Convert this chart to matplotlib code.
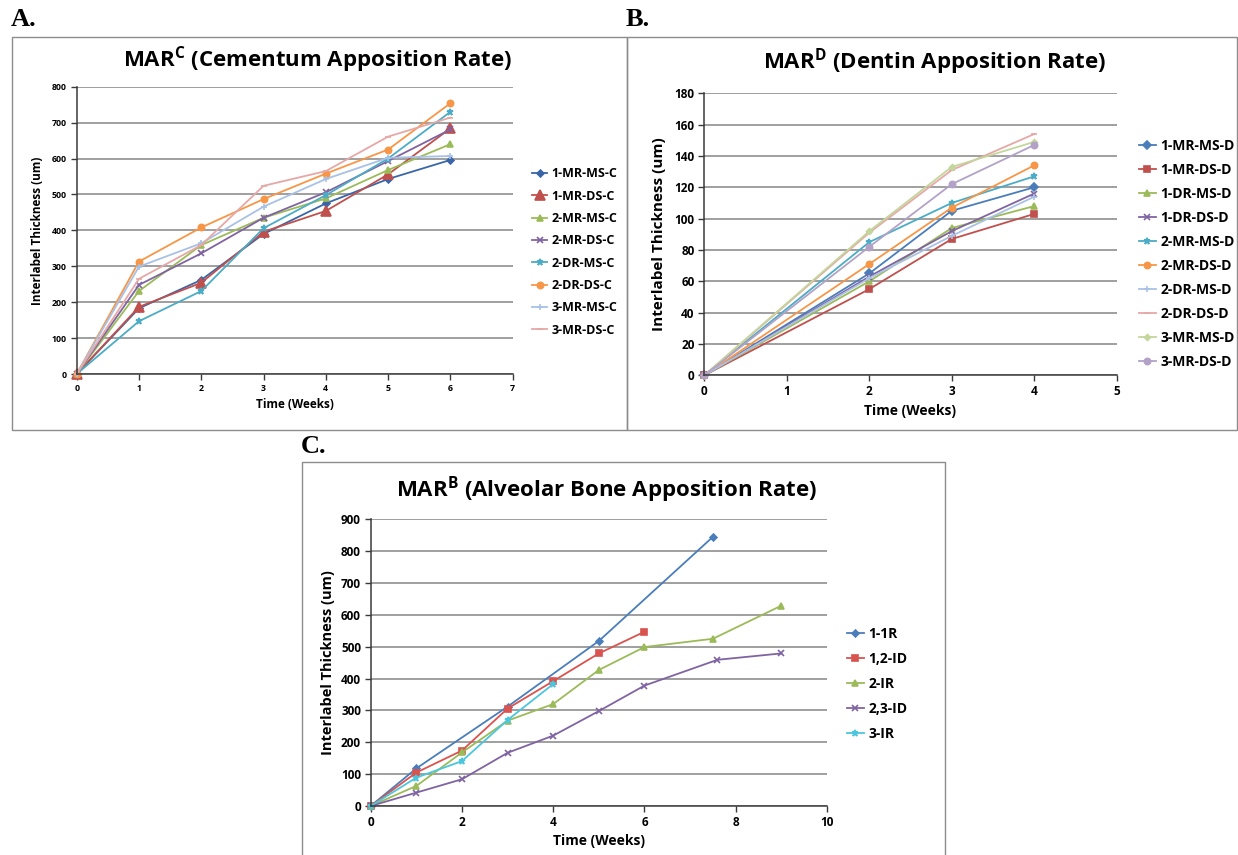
import matplotlib
matplotlib.use("Agg")
import matplotlib.pyplot as plt
from matplotlib.patches import Rectangle

plt.rcParams["font.family"] = ["Open Sans", "DejaVu Sans"]
plt.rcParams["font.weight"] = "bold"
plt.rcParams["mathtext.fontset"] = "custom"
plt.rcParams["mathtext.rm"] = "Open Sans:bold"
plt.rcParams["mathtext.bf"] = "Open Sans:bold"

# ── Data ─────────────────────────────────────────────────────────────────
weeks_a = [0, 1, 2, 3, 4, 5, 6]
labels_a = ["1-MR-MS-C", "1-MR-DS-C", "2-MR-MS-C", "2-MR-DS-C",
            "2-DR-MS-C", "2-DR-DS-C", "3-MR-MS-C", "3-MR-DS-C"]
mr_ms_c1 = [0, 183, 262, 390, 475, 543, 596]
mr_ds_c1 = [0, 187, 254, 396, 454, 556, 684]
mr_ms_c2 = [0, 231, 359, 435, 489, 568, 640]
mr_ds_c2 = [0, 248, 336, 435, 506, 593, 681]
dr_ms_c2 = [0, 147, 231, 406, 498, 600, 730]
dr_ds_c2 = [0, 313, 408, 487, 558, 625, 754]
mr_ms_c3 = [0, 299, 364, 466, 543, 602, 607]
mr_ds_c3 = [0, 265, 359, 524, 565, 661, 714]
values_a = [mr_ms_c1, mr_ds_c1, mr_ms_c2, mr_ds_c2,
            dr_ms_c2, dr_ds_c2, mr_ms_c3, mr_ds_c3]

weeks_b = [0, 2, 3, 4]
labels_b = ["1-MR-MS-D", "1-MR-DS-D", "1-DR-MS-D", "1-DR-DS-D", "2-MR-MS-D",
            "2-MR-DS-D", "2-DR-MS-D", "2-DR-DS-D", "3-MR-MS-D", "3-MR-DS-D"]
mr_ms_d1 = [0, 65, 105, 120]
mr_ds_d1 = [0, 55, 87, 103]
dr_ms_d1 = [0, 60, 94, 108]
dr_ds_d1 = [0, 63, 92, 116]
mr_ms_d2 = [0, 85, 110, 127]
mr_ds_d2 = [0, 71, 107, 134]
dr_ms_d2 = [0, 62, 89, 114]
dr_ds_d2 = [0, 91, 131, 154]
mr_ms_d3 = [0, 92, 133, 149]
mr_ds_d3 = [0, 82, 122, 147]
values_b = [mr_ms_d1, mr_ds_d1, dr_ms_d1, dr_ds_d1, mr_ms_d2,
            mr_ds_d2, dr_ms_d2, dr_ds_d2, mr_ms_d3, mr_ds_d3]

labels_c = ["1-1R", "1,2-ID", "2-IR", "2,3-ID", "3-IR"]
weeks_1_1r = [0, 1, 3, 5, 7.5]
vals_1_1r = [0, 118, 312, 518, 845]
weeks_12_id = [0, 1, 2, 3, 4, 5, 6]
vals_12_id = [0, 105, 174, 306, 392, 479, 547]
weeks_2_ir = [0, 1, 2, 3, 4, 5, 6, 7.5, 9]
vals_2_ir = [0, 63, 168, 268, 320, 427, 499, 525, 629]
weeks_23_id = [0, 1, 2, 3, 4, 5, 6, 7.6, 9]
vals_23_id = [0, 42, 84, 167, 221, 298, 378, 459, 479]
weeks_3_ir = [0, 1, 2, 3, 4]
vals_3_ir = [0, 89, 141, 270, 383]
weeks_c = [weeks_1_1r, weeks_12_id, weeks_2_ir, weeks_23_id, weeks_3_ir]
values_c = [vals_1_1r, vals_12_id, vals_2_ir, vals_23_id, vals_3_ir]

# ── Styles ───────────────────────────────────────────────────────────────
colors_a = ["#3A66A8", "#C0504D", "#9BBB59", "#8064A2",
            "#4BACC6", "#F79646", "#A9C1E6", "#E6A8A6"]
markers_a = [("D", 3.5), ("^", 7), ("^", 4.5), ("x", 4.5),
             ("*", 5), ("o", 4.5), ("+", 5), ("_", 5)]
colors_b = ["#4A7EBB", "#C0504D", "#9BBB59", "#8064A2", "#4BACC6",
            "#F79646", "#A9C1E6", "#E6A8A6", "#C3D69B", "#B3A2C7"]
markers_b = [("D", 4), ("s", 4), ("^", 4.5), ("x", 4.5), ("*", 5),
             ("o", 4.5), ("+", 5), ("_", 5), ("D", 3), ("o", 4.5)]
colors_c = ["#4A7EBB", "#D9534F", "#9BBB59", "#8064A2", "#4BC6DD"]
markers_c = [("D", 3.5), ("s", 4.5), ("^", 4.5), ("x", 4.5), ("*", 5)]

GRID = "#858585"
SPINE = "#3A3A3A"
W, H = 1238, 855

fig = plt.figure(figsize=(12.38, 8.55), dpi=100)
fig.patch.set_facecolor("white")


def px_axes(x0, y0, x1, y1):
    return fig.add_axes([x0 / W, 1 - y1 / H, (x1 - x0) / W, (y1 - y0) / H])


def frame(x0, y0, x1, y1):
    fig.add_artist(Rectangle((x0 / W, 1 - y1 / H), (x1 - x0) / W, (y1 - y0) / H,
                             transform=fig.transFigure, fill=False,
                             edgecolor="#8C8C8C", lw=1.0))


def style(ax, xmax, ymax, xstep, ystep, tick_fs):
    ax.set_xlim(0, xmax)
    ax.set_ylim(0, ymax)
    ax.set_xticks(range(0, xmax + 1, xstep))
    ax.set_yticks(range(0, ymax + 1, ystep))
    ax.yaxis.grid(True, color=GRID, lw=1.1)
    ax.set_axisbelow(True)
    for s in ["top", "right"]:
        ax.spines[s].set_visible(False)
    for s in ["left", "bottom"]:
        ax.spines[s].set_color(SPINE)
        ax.spines[s].set_linewidth(1.1)
    ax.tick_params(direction="out", length=4, width=1, color=SPINE,
                   labelsize=tick_fs, pad=3)


def legend(ax, x, y, fs, spacing):
    ax.legend(loc="center left", bbox_to_anchor=(x / W, 1 - y / H),
              bbox_transform=fig.transFigure, frameon=False,
              handlelength=1.2, handletextpad=0.35, labelspacing=spacing,
              borderpad=0, prop={"weight": "bold", "size": fs})


def title(x, y, head, sup, rest):
    fig.text(x / W, 1 - y / H, rf"{head}$^{{\mathrm{{{sup}}}}}$ {rest}",
             ha="center", va="center", fontsize=16, fontweight="bold")


def letter(x, y, s):
    fig.text(x / W, 1 - y / H, s, ha="left", va="center", fontsize=19,
             fontweight="bold", family="Liberation Serif")


# ── Panel A ──────────────────────────────────────────────────────────────
frame(12, 37, 627, 430)
axA = px_axes(76.7, 86.7, 512.7, 374)
for lab, vals, c, (m, ms) in zip(labels_a, values_a, colors_a, markers_a):
    axA.plot(weeks_a, vals, color=c, marker=m, ms=ms, lw=1.3, label=lab,
             mew=1.2, clip_on=False)
style(axA, 7, 800, 1, 100, 6.3)
axA.set_xlabel("Time (Weeks)", fontsize=8.5, fontweight="bold", labelpad=4)
axA.set_ylabel("Interlabel Thickness (um)", fontsize=8.5, fontweight="bold",
               labelpad=6)
legend(axA, 526, 252, 9, 0.75)
title(318, 60, "MAR", "C", "(Cementum Apposition Rate)")
letter(11, 19, "A.")

# ── Panel B ──────────────────────────────────────────────────────────────
frame(627, 37, 1237, 430)
axB = px_axes(704.3, 93.3, 1116.7, 375.3)
for lab, vals, c, (m, ms) in zip(labels_b, values_b, colors_b, markers_b):
    axB.plot(weeks_b, vals, color=c, marker=m, ms=ms, lw=1.3, label=lab,
             mew=1.2, clip_on=False)
style(axB, 5, 180, 1, 20, 8.5)
axB.set_xlabel("Time (Weeks)", fontsize=10, fontweight="bold", labelpad=4)
axB.set_ylabel("Interlabel Thickness (um)", fontsize=11, fontweight="bold",
               labelpad=6)
legend(axB, 1132, 254, 10, 0.72)
title(935, 62, "MAR", "D", "(Dentin Apposition Rate)")
letter(626, 19, "B.")

# ── Panel C ──────────────────────────────────────────────────────────────
frame(302, 462, 945, 856)
axC = px_axes(370.7, 519.3, 827, 806)
for lab, xs, vals, c, (m, ms) in zip(labels_c, weeks_c, values_c,
                                     colors_c, markers_c):
    axC.plot(xs, vals, color=c, marker=m, ms=ms, lw=1.3, label=lab,
             mew=1.2, clip_on=False)
style(axC, 10, 900, 2, 100, 8.5)
axC.set_xlabel("Time (Weeks)", fontsize=10, fontweight="bold", labelpad=4)
axC.set_ylabel("Interlabel Thickness (um)", fontsize=10.5, fontweight="bold",
               labelpad=4)
legend(axC, 840, 684, 10, 0.8)
title(607, 490, "MAR", "B", "(Alveolar Bone Apposition Rate)")
letter(301, 446, "C.")

fig.savefig("out.png", dpi=100, facecolor="white")
